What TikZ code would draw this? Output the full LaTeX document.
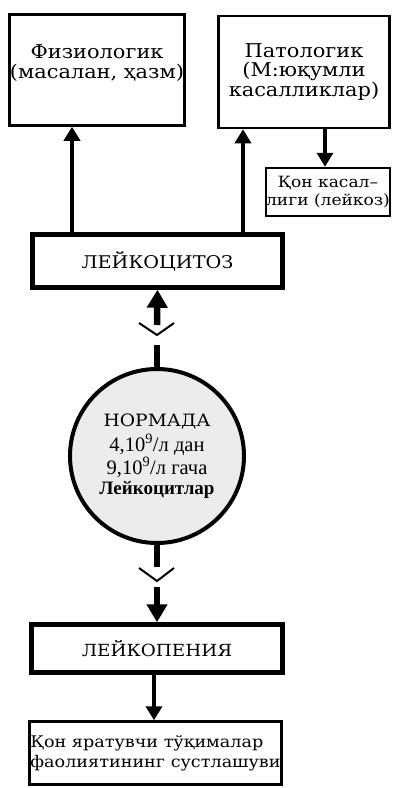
\documentclass[tikz,border=0pt]{standalone}
\usepackage{fontspec}
\setmainfont{DejaVu Serif}[FakeStretch=1.1]
\newfontfamily\timesfont{Liberation Serif}
\usetikzlibrary{arrows.meta}

\begin{document}
\begin{tikzpicture}[x=1pt, y=-1pt, every node/.style={font=\fontsize{18}{19.5}\selectfont, inner sep=0pt, align=center},
	>={Triangle[length=14pt, width=16pt]},
	box/.style={draw, line width=2.5pt},
	bigbox/.style={draw, line width=4.5pt},
	arr/.style={->, line width=4.5pt},
	bigarr/.style={-{Triangle[length=18pt, width=20pt]}, line width=6.5pt},
	stub/.style={line width=6.5pt},
	chev/.style={line width=2pt}]
	\useasboundingbox (0,0) rectangle (392,788);
	\node[box, minimum width=175pt, minimum height=111pt] (fiz) at (97,70) {};
	\node[font=\fontsize{19}{20}\selectfont] (fiztxt) at (97,63) {Физиологик\\(масалан, ҳазм)};
	\node[box, minimum width=171pt, minimum height=112pt, font=\fontsize{19}{19.5}\selectfont] (pat) at (304,72) {Патологик\\(М:юқумли\\касалликлар)};
	\node[box, minimum width=124pt, minimum height=48pt, font=\fontsize{15.5}{18}\selectfont] (qon) at (328,192) {Қон касал–\\лиги (лейкоз)};
	\node[bigbox, minimum width=250pt, minimum height=53pt, font=\fontsize{17.5}{19}\selectfont] (leyc) at (157.5,261) {ЛЕЙКОЦИТОЗ};
	\node[circle, draw, line width=4pt, fill=gray!15, minimum size=174pt, font=\fontsize{17}{19}\selectfont] (norm) at (157,456) {НОРМАДА\\[4pt]\timesfont\fontsize{20.5}{19}\selectfont 4,10\textsuperscript{9}/л дан\\[1pt]\timesfont\fontsize{20.5}{19}\selectfont 9,10\textsuperscript{9}/л гача\\[1pt]\timesfont\bfseries\fontsize{19}{19}\selectfont Лейкоцитлар};
	\node[bigbox, minimum width=251pt, minimum height=48pt, font=\fontsize{16.7}{19}\selectfont] (leyp) at (157,648.5) {ЛЕЙКОПЕНИЯ};
	\node[box, minimum width=252pt, minimum height=63pt, align=left, font=\fontsize{16}{20}\selectfont] (bot) at (155.5,753) {Қон яратувчи тўқималар\\фаолиятининг сустлашуви};
	\coordinate (lf) at (72,0);
	\coordinate (lp) at (243,0);
	\coordinate (lq) at (325,0);
	\coordinate (lb) at (154,0);
	\coordinate (s1) at (157,345);
	\coordinate (v1) at (157,335);
	\coordinate (s2) at (157,567);
	\coordinate (v2) at (157,581);
	\draw[arr] (leyc.north -| lf) -- (fiz.south -| lf);
	\draw[arr] (leyc.north -| lp) -- (pat.south -| lp);
	\draw[arr] (pat.south -| lq) -- (qon.north -| lq);
	\draw[stub] (norm.north) -- (s1);
	\draw[chev] ([shift={(-18,-12)}]v1) -- (v1) -- ([shift={(17,-12)}]v1);
	\draw[bigarr] ([yshift=10pt]v1) -- (leyc.south);
	\draw[stub] (norm.south) -- (s2);
	\draw[chev] ([shift={(-18,-13)}]v2) -- (v2) -- ([shift={(17,-13)}]v2);
	\draw[bigarr] ([yshift=-6pt]v2) -- (leyp.north);
	\draw[arr] (leyp.south -| lb) -- (bot.north -| lb);
\end{tikzpicture}
\end{document}
